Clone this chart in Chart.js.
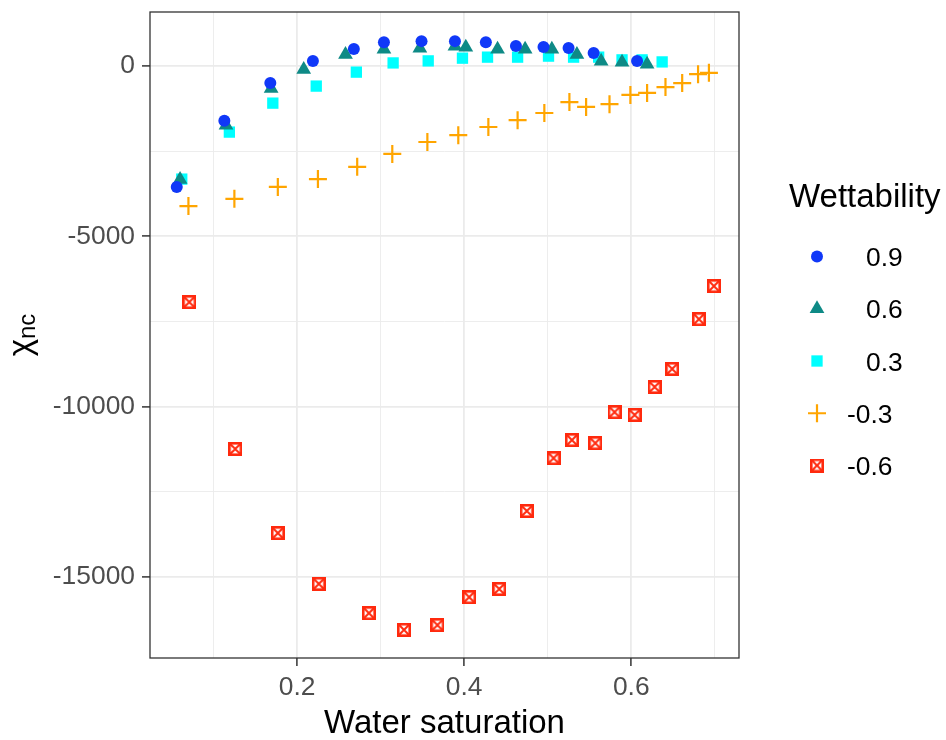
<!DOCTYPE html>
<html>
<head>
<meta charset="utf-8">
<script src="https://cdn.jsdelivr.net/npm/chart.js@4.4.0/dist/chart.umd.min.js"></script>
<style>
  html, body { margin: 0; padding: 0; background: #fff; }
  #wrap { width: 946px; height: 740px; }
</style>
</head>
<body>
<div id="wrap"><canvas id="chart" width="946" height="740"></canvas></div>
<script>
// Wettability groups (legend order)
const wettability = ['0.9', '0.6', '0.3', '-0.3', '-0.6'];

// water saturation / chi_nc per group
const sat09 = [0.056, 0.113, 0.168, 0.219, 0.268, 0.304, 0.349, 0.389, 0.426, 0.462, 0.495, 0.525, 0.555, 0.607];
const chi09 = [-3550, -1610, -500, 150, 500, 700, 730, 730, 700, 590, 560, 530, 380, 150];

const sat06 = [0.060, 0.115, 0.169, 0.208, 0.258, 0.304, 0.347, 0.389, 0.402, 0.440, 0.473, 0.505, 0.535, 0.564, 0.589, 0.619];
const chi06 = [-3330, -1740, -660, -100, 340, 490, 520, 580, 550, 490, 490, 490, 340, 140, 110, 50];

const sat03 = [0.062, 0.119, 0.171, 0.223, 0.271, 0.315, 0.357, 0.398, 0.428, 0.464, 0.501, 0.531, 0.561, 0.589, 0.613, 0.637];
const chi03 = [-3320, -1940, -1090, -590, -180, 90, 150, 230, 260, 260, 290, 260, 260, 180, 180, 120];

const satM03 = [0.070, 0.125, 0.177, 0.225, 0.272, 0.314, 0.356, 0.393, 0.429, 0.464, 0.496, 0.526, 0.546, 0.574, 0.599, 0.619, 0.641, 0.661, 0.680, 0.693];
const chiM03 = [-4110, -3900, -3550, -3320, -2960, -2580, -2230, -2030, -1790, -1590, -1380, -1060, -1200, -1120, -850, -790, -620, -500, -240, -200];

const satM06 = [0.071, 0.126, 0.177, 0.226, 0.286, 0.328, 0.368, 0.406, 0.442, 0.475, 0.507, 0.529, 0.557, 0.580, 0.604, 0.628, 0.649, 0.681, 0.699];
const chiM06 = [-6930, -11240, -13710, -15200, -16060, -16550, -16410, -15590, -15350, -13060, -11510, -10980, -11070, -10160, -10240, -9420, -8890, -7430, -6460];

// axes
const xGrid = [0.1, 0.2, 0.3, 0.4, 0.5, 0.6, 0.7];
const xTickLabels = ['', '0.2', '', '0.4', '', '0.6', ''];
const yGrid = [-15000, -12500, -10000, -7500, -5000, -2500, 0];
const yTickLabels = ['-15000', '', '-10000', '', '-5000', '', '0'];

const FONT = '"Liberation Sans", Arial, Helvetica, sans-serif';
Chart.defaults.font.family = FONT;

// ggplot shape 7: square with a cross
function boxCross(size, color) {
    const c = document.createElement('canvas');
    c.width = size;
    c.height = size;
    const g = c.getContext('2d');
    const lw = 2.6;
    const o = lw / 2;
    g.strokeStyle = color;
    g.lineWidth = lw;
    g.strokeRect(o, o, size - lw, size - lw);
    g.lineWidth = 2;
    g.beginPath();
    g.moveTo(o, o); g.lineTo(size - o, size - o);
    g.moveTo(size - o, o); g.lineTo(o, size - o);
    g.stroke();
    return c;
}

const pts = (xs, ys) => xs.map((x, i) => ({ x, y: ys[i] }));

const datasets = [
    { label: wettability[0], data: pts(sat09, chi09), pointStyle: 'circle', pointRadius: 6,
      backgroundColor: '#1038f8', borderColor: '#1038f8', borderWidth: 0 },
    { label: wettability[1], data: pts(sat06, chi06), pointStyle: 'triangle', pointRadius: 8.5,
      backgroundColor: '#0e8a86', borderColor: '#0e8a86', borderWidth: 0 },
    { label: wettability[2], data: pts(sat03, chi03), pointStyle: 'rect', pointRadius: 8,
      backgroundColor: '#00ffff', borderColor: '#00ffff', borderWidth: 0 },
    { label: wettability[3], data: pts(satM03, chiM03), pointStyle: 'cross', pointRadius: 9,
      backgroundColor: '#ffa500', borderColor: '#ffa500', borderWidth: 2.2 },
    { label: wettability[4], data: pts(satM06, chiM06), pointStyle: boxCross(14, '#ff2a0e'), pointRadius: 7,
      backgroundColor: '#ff2a0e', borderColor: '#ff2a0e', borderWidth: 0 },
];

// panel border on top of the points, like theme_bw
const panelBorder = {
    id: 'panelBorder',
    afterDatasetsDraw(chart) {
        const { ctx, chartArea: a } = chart;
        ctx.save();
        ctx.strokeStyle = '#333333';
        ctx.lineWidth = 1.3;
        ctx.strokeRect(a.left, a.top, a.right - a.left, a.bottom - a.top);
        ctx.restore();
    },
};

// y title with subscript
const yTitle = {
    id: 'yTitle',
    afterDraw(chart) {
        const { ctx } = chart;
        ctx.save();
        ctx.fillStyle = '#000';
        ctx.textBaseline = 'alphabetic';
        ctx.textAlign = 'left';
        ctx.font = '33px ' + FONT;
        const wChi = ctx.measureText('χ').width;
        ctx.font = '24px ' + FONT;
        const wSub = ctx.measureText('nc').width;
        ctx.translate(31, 335);
        ctx.rotate(-Math.PI / 2);
        const x0 = -(wChi + wSub) / 2;
        ctx.font = '33px ' + FONT;
        ctx.fillText('χ', x0, 0);
        ctx.font = '24px ' + FONT;
        ctx.fillText('nc', x0 + wChi, 4);
        ctx.restore();
    },
};

// legend laid out like ggplot's guide
const sideLegend = {
    id: 'sideLegend',
    afterDraw(chart) {
        const { ctx } = chart;
        ctx.save();
        ctx.fillStyle = '#000';
        ctx.textAlign = 'left';
        ctx.textBaseline = 'alphabetic';
        ctx.font = '33px ' + FONT;
        ctx.fillText('Wettability', 789, 207);
        ctx.font = '26.4px ' + FONT;
        chart.data.datasets.forEach((ds, i) => {
            const cy = 256.5 + i * 52.25;
            ctx.fillStyle = ds.backgroundColor;
            ctx.strokeStyle = ds.borderColor;
            ctx.lineWidth = ds.borderWidth;
            Chart.helpers.drawPoint(ctx, {
                pointStyle: ds.pointStyle, radius: ds.pointRadius,
                rotation: 0, borderWidth: ds.borderWidth,
            }, 817, cy);
            ctx.fillStyle = '#000';
            const tx = ds.label.startsWith('-') ? 847 : 866;
            ctx.fillText(ds.label, tx, cy + 9.5);
        });
        ctx.restore();
    },
};

new Chart(document.getElementById('chart'), {
    type: 'scatter',
    data: { datasets },
    plugins: [panelBorder, yTitle, sideLegend],
    options: {
        responsive: false,
        animation: false,
        events: [],
        layout: { padding: { left: 0, top: 12, right: 207, bottom: 0 } },
        plugins: { legend: { display: false }, tooltip: { enabled: false } },
        scales: {
            x: {
                type: 'linear',
                min: 0.024,
                max: 0.729,
                afterBuildTicks: (s) => { s.ticks = xGrid.map(v => ({ value: v })); },
                afterFit: (s) => { s.height = 82; s.paddingLeft = 0; s.paddingRight = 0; },
                border: { display: false },
                grid: {
                    color: '#ebebeb',
                    lineWidth: (c) => (xTickLabels[c.index] ? 1.8 : 0.9),
                    tickColor: (c) => (xTickLabels[c.index] ? '#333333' : 'rgba(0,0,0,0)'),
                    tickLength: 8,
                    tickWidth: 1.5,
                },
                ticks: {
                    autoSkip: false,
                    maxRotation: 0,
                    padding: 6,
                    color: '#4d4d4d',
                    font: { size: 26.4 },
                    callback: (v, i) => xTickLabels[i],
                },
                title: {
                    display: true,
                    text: 'Water saturation',
                    color: '#000',
                    font: { size: 33 },
                    padding: { top: 0, bottom: -4 },
                },
            },
            y: {
                type: 'linear',
                min: -17376,
                max: 1585,
                afterBuildTicks: (s) => { s.ticks = yGrid.map(v => ({ value: v })); },
                afterFit: (s) => { s.width = 150; s.paddingTop = 0; s.paddingBottom = 0; },
                border: { display: false },
                grid: {
                    color: '#ebebeb',
                    lineWidth: (c) => (yTickLabels[c.index] ? 1.8 : 0.9),
                    tickColor: (c) => (yTickLabels[c.index] ? '#333333' : 'rgba(0,0,0,0)'),
                    tickLength: 8,
                    tickWidth: 1.5,
                },
                ticks: {
                    autoSkip: false,
                    padding: 7,
                    color: '#4d4d4d',
                    font: { size: 26.4 },
                    callback: (v, i) => yTickLabels[i],
                },
            },
        },
    },
});
</script>
</body>
</html>
